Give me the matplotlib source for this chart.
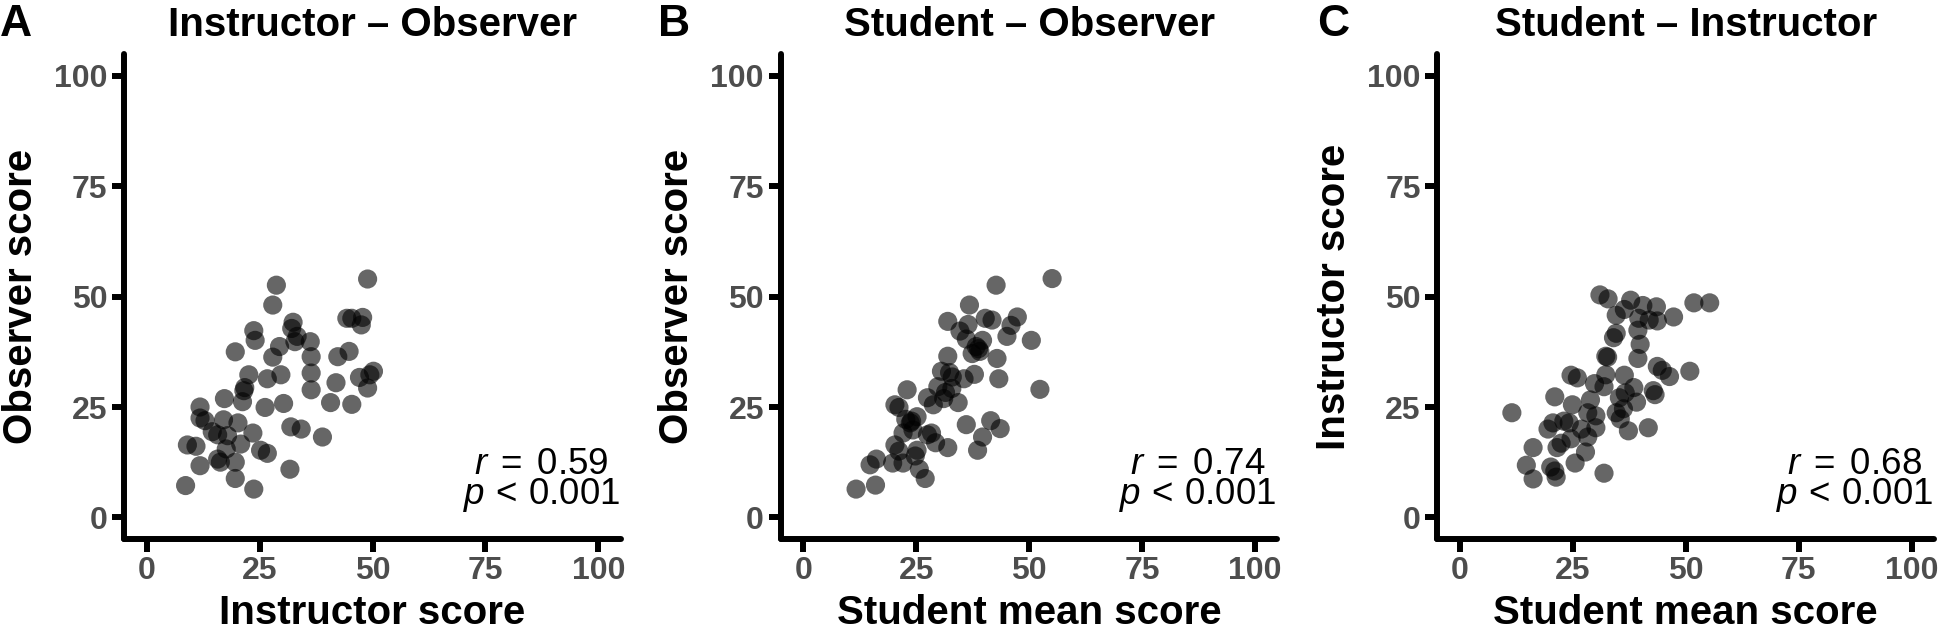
import matplotlib.pyplot as plt

plt.rcParams['font.family'] = ['Liberation Sans', 'DejaVu Sans']
plt.rcParams['mathtext.fontset'] = 'custom'
plt.rcParams['mathtext.rm'] = 'Liberation Sans'
plt.rcParams['mathtext.it'] = 'Liberation Sans:italic'

# panel A: instructor vs observer
instr_a = [48.9, 28.7, 27.9, 44.3, 45.4, 47.8, 47.5, 32.4, 32.1, 23.7, 24.0, 33.3, 32.8,
           36.2, 19.6, 29.4, 27.9, 42.3, 44.8, 36.4, 36.4, 22.6, 29.7, 26.7, 47.1, 49.4,
           50.2, 21.7, 21.5, 36.4, 48.9, 41.9, 17.2, 21.2, 30.3, 26.2, 40.7, 45.4, 11.8,
           11.8, 12.9, 17.0, 20.2, 31.9, 34.2, 23.5, 14.5, 15.7, 17.9, 38.9, 9.0, 10.9,
           17.6, 20.8, 25.2, 26.7, 15.7, 16.3, 19.6, 11.8, 31.7, 19.6, 8.6, 23.7]
obs_a = [54.0, 52.6, 48.1, 45.1, 45.1, 45.3, 43.6, 44.2, 42.8, 42.3, 40.1, 41.0, 39.8,
         39.8, 37.5, 38.7, 36.3, 36.4, 37.6, 36.4, 32.7, 32.3, 32.3, 31.4, 31.7, 32.3,
         33.1, 29.4, 28.7, 28.9, 29.3, 30.5, 26.9, 26.2, 25.8, 24.9, 26.0, 25.6, 25.0,
         22.5, 21.9, 22.1, 21.4, 20.5, 20.0, 19.1, 19.4, 18.7, 18.5, 18.2, 16.4, 16.1,
         15.5, 16.6, 15.2, 14.5, 13.2, 12.5, 12.5, 11.7, 10.9, 8.8, 7.2, 6.4]

# panel B: student mean vs observer
stud_b = [55.1, 42.7, 36.8, 32.0, 40.3, 41.8, 47.4, 46.0, 36.5, 34.7, 45.1, 36.1, 39.7,
          50.5, 38.3, 39.1, 37.4, 32.0, 42.9, 30.6, 32.4, 37.9, 35.6, 43.3, 29.8, 32.9,
          52.4, 23.0, 27.5, 31.1, 34.3, 20.3, 21.2, 28.8, 22.7, 23.7, 25.2, 41.5, 36.1,
          43.6, 22.1, 24.3, 28.4, 27.5, 39.7, 29.3, 20.3, 21.2, 32.0, 25.2, 38.6, 16.2,
          14.8, 19.8, 22.1, 24.8, 25.7, 27.0, 16.0, 11.7, 33.0, 38.8, 24.0, 31.5]
obs_b = [54.1, 52.6, 48.1, 44.4, 45.1, 44.7, 45.4, 43.5, 43.7, 42.2, 41.0, 40.4, 40.1,
         40.1, 38.7, 37.6, 37.1, 36.5, 36.0, 33.1, 32.8, 32.4, 31.4, 31.4, 29.6, 29.2,
         29.0, 28.9, 27.1, 26.9, 26.0, 25.5, 24.9, 25.5, 22.2, 21.4, 22.8, 21.9, 21.0,
         20.1, 19.1, 19.8, 19.1, 18.7, 18.2, 16.9, 16.4, 15.0, 15.8, 15.2, 15.2, 13.2,
         11.9, 12.3, 12.3, 13.9, 10.9, 8.8, 7.3, 6.4, 31.8, 38.2, 21.8, 28.3]

# panel C: student mean vs instructor
stud_c = [31.0, 32.8, 37.8, 51.8, 55.3, 40.5, 43.5, 36.4, 34.6, 47.3, 39.6, 41.9, 43.7,
          39.4, 34.6, 34.0, 39.9, 32.3, 32.7, 39.4, 43.7, 44.8, 50.9, 46.4, 24.6, 26.0,
          32.3, 36.4, 29.8, 31.9, 38.5, 36.6, 42.8, 43.2, 21.0, 35.3, 28.9, 39.1, 24.9,
          36.2, 11.5, 34.6, 28.3, 30.1, 35.5, 20.6, 24.2, 23.0, 19.5, 30.1, 26.9, 41.7,
          37.3, 28.3, 24.6, 22.4, 16.2, 21.5, 27.8, 14.7, 25.5, 20.1, 21.0, 31.9, 16.2, 21.3]
instr_c = [50.4, 49.5, 49.2, 48.6, 48.6, 48.0, 47.7, 47.1, 45.8, 45.4, 45.1, 44.7, 44.5,
           42.4, 41.7, 40.7, 39.2, 36.5, 36.3, 36.0, 34.2, 33.3, 33.1, 31.9, 32.2, 31.6,
           32.3, 32.2, 30.3, 29.6, 29.4, 28.2, 28.7, 27.8, 27.3, 27.1, 26.6, 26.1, 25.5,
           24.6, 23.7, 23.7, 23.7, 23.0, 22.3, 21.4, 21.4, 21.8, 20.0, 20.3, 20.0, 20.3,
           19.6, 18.2, 17.8, 16.8, 15.8, 15.8, 14.8, 11.8, 12.3, 11.4, 10.5, 10.0, 8.7, 9.1]

panels = [
    ('A', 'Instructor \u2013 Observer', 'Instructor score', 'Observer score', instr_a, obs_a, '0.59'),
    ('B', 'Student \u2013 Observer', 'Student mean score', 'Observer score', stud_b, obs_b, '0.74'),
    ('C', 'Student \u2013 Instructor', 'Student mean score', 'Instructor score', stud_c, instr_c, '0.68'),
]
lefts = [0.0640, 0.4024, 0.7409]
letter_x = [0.0, 0.339, 0.679]
ticks = [0, 25, 50, 75, 100]

fig = plt.figure(figsize=(19.4, 6.3), dpi=100)

for i, (letter, title, xlab, ylab, x, y, r) in enumerate(panels):
    ax = fig.add_axes([lefts[i], 0.1438, 0.2561, 0.7706])
    ax.scatter(x, y, s=190, color='black', alpha=0.6, edgecolors='none')
    ax.set_xlim(-5, 105)
    ax.set_ylim(-5, 105)
    ax.set_xticks(ticks)
    ax.set_yticks(ticks)
    for side in ['top', 'right']:
        ax.spines[side].set_visible(False)
    for side in ['left', 'bottom']:
        ax.spines[side].set_linewidth(4.3)
        ax.spines[side].set_capstyle('round')
    ax.tick_params(length=9, width=4.3, color='black', labelsize=23,
                   labelcolor='#4D4D4D', pad=3)
    for lab in ax.get_xticklabels() + ax.get_yticklabels():
        lab.set_fontweight('bold')

    ax.set_xlabel(xlab, fontsize=29, fontweight='bold', va='baseline')
    ax.xaxis.set_label_coords(0.5, -0.174)
    ax.set_ylabel(ylab, fontsize=29, fontweight='bold', va='baseline')
    ax.yaxis.set_label_coords(-0.186, 0.5)

    ax.text(0.5, 1.037, title, transform=ax.transAxes, ha='center', va='baseline',
            fontsize=29, fontweight='bold')
    # two stat lines centred on each other, block pushed to the right edge
    ax.text(0.840, 0.1355, r'$r\;=\;%s$' % r, transform=ax.transAxes,
            ha='center', va='baseline', fontsize=26.5)
    ax.text(0.840, 0.073, r'$p\,<\,0.001$', transform=ax.transAxes, ha='center',
            va='baseline', fontsize=26.5)

    fig.text(letter_x[i], 1 - 36 / 630, letter, ha='left', va='baseline',
             fontsize=32, fontweight='bold')

fig.savefig('out.png', dpi=100)
